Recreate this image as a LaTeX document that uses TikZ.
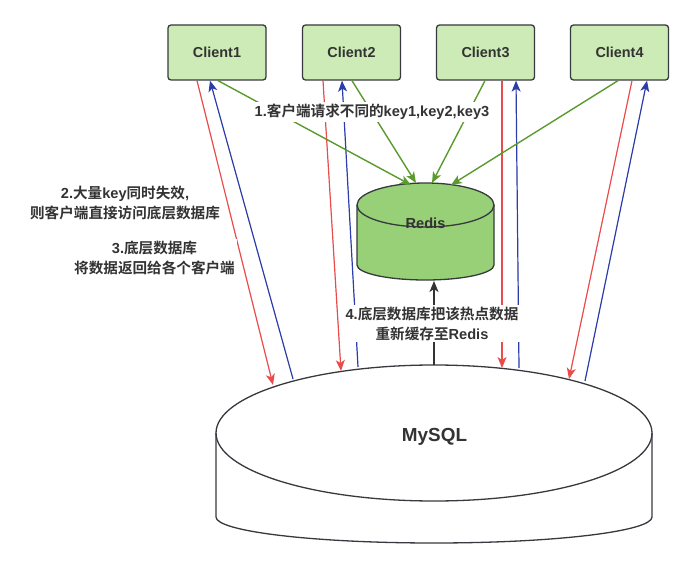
\documentclass[tikz,border=0pt]{standalone}
\usepackage{fontspec}
\setmainfont{Liberation Sans}
\newfontfamily\zhfont{Noto Sans CJK SC}[BoldFont={Noto Sans CJK SC Bold}]
\newcommand{\zh}[1]{{\zhfont #1}}
\usetikzlibrary{arrows.meta}
\definecolor{clientfill}{HTML}{CDEBB6}
\definecolor{redisfill}{HTML}{97D077}
\definecolor{edge}{HTML}{36393D}
\definecolor{txt}{HTML}{333333}
\definecolor{rline}{HTML}{EA4C4C}
\definecolor{bline}{HTML}{2C3DAA}
\definecolor{gline}{HTML}{5A9A2E}
\tikzset{
  client/.style={draw=edge, fill=clientfill, line width=1.3pt, rounded corners=3pt,
    minimum width=98pt, minimum height=55pt, inner sep=0pt,
    font=\fontsize{14.4}{17}\selectfont\bfseries, text=txt},
  lbl/.style={align=center, inner sep=2pt, fill=white,
    font=\fontsize{14.6}{20}\selectfont\bfseries, text=txt},
  tip/.style={-{Stealth[length=11pt,width=9pt,inset=3pt]}},
  redarr/.style={tip, draw=rline, fill=rline, line width=1.2pt},
  bluearr/.style={tip, draw=bline, fill=bline, line width=1.2pt},
  greenarr/.style={tip, draw=gline, fill=gline, line width=1.4pt},
  blackarr/.style={tip, draw=txt, fill=txt, line width=1.3pt},
  cyl/.style={draw=edge, line width=1.3pt}
}
\begin{document}
\begin{tikzpicture}[x=1pt,y=-1pt]
\useasboundingbox (0,0) rectangle (693,569);
% clients
\node[client] (c1) at (217,52.5) {Client1};
\node[client] (c2) at (351.5,52.5) {Client2};
\node[client] (c3) at (485.5,52.5) {Client3};
\node[client] (c4) at (619.5,52.5) {Client4};
% MySQL cylinder
\path[cyl, fill=white] (216,433) -- (216,517) arc[start angle=180,end angle=0,x radius=218,y radius=26]
  -- (652,433) arc[start angle=360,end angle=180,x radius=218,y radius=68] -- cycle;
\draw[cyl] (216,433) arc[start angle=180,end angle=0,x radius=218,y radius=68];
\node[font=\fontsize{18.9}{22}\selectfont\bfseries, text=txt] (mysql) at (434.5,437) {MySQL};
% Redis cylinder
\path[cyl, fill=redisfill] (357,205) -- (357,265) arc[start angle=180,end angle=0,x radius=68.5,y radius=15]
  -- (494,205) arc[start angle=360,end angle=180,x radius=68.5,y radius=22] -- cycle;
\draw[cyl] (357,205) arc[start angle=180,end angle=0,x radius=68.5,y radius=22];
\node[font=\fontsize{14.6}{17}\selectfont\bfseries, text=txt] (redis) at (425.5,223) {Redis};
% end points on the cylinders
\coordinate (m1r) at (273,385);
\coordinate (m1b) at (293,379);
\coordinate (m2r) at (341,371);
\coordinate (m2b) at (358,367);
\coordinate (m3r) at (502,368);
\coordinate (m3b) at (519,368);
\coordinate (m4r) at (569,379);
\coordinate (m4b) at (585,381);
\coordinate (r1) at (411,185);
\coordinate (r2) at (416,183);
\coordinate (r3) at (432,183);
\coordinate (r4) at (451,185);
\coordinate (mtop) at (434,365);
\coordinate (rbot) at (434,281);
% red: client -> MySQL
\draw[redarr] ([xshift=-20pt]c1.south) -- (m1r);
\draw[redarr] ([xshift=-28.5pt]c2.south) -- (m2r);
\draw[redarr] ([xshift=16.5pt]c3.south) -- (m3r);
\draw[redarr] ([xshift=12.5pt]c4.south) -- (m4r);
% blue: MySQL -> client
\draw[bluearr] (m1b) -- ([xshift=-7pt]c1.south);
\draw[bluearr] (m2b) -- ([xshift=-9.5pt]c2.south);
\draw[bluearr] (m3b) -- ([xshift=30.5pt]c3.south);
\draw[bluearr] (m4b) -- ([xshift=27.5pt]c4.south);
% green: client -> Redis
\draw[greenarr] ([xshift=1pt]c1.south) -- (r1);
\draw[greenarr] ([xshift=0.5pt]c2.south) -- (r2);
\draw[greenarr] ([xshift=-0.5pt]c3.south) -- (r3);
\draw[greenarr] ([xshift=-1.5pt]c4.south) -- (r4);
% black: MySQL -> Redis
\draw[blackarr] (mtop) -- (rbot);
% labels
\node[lbl] (l1) at (372,112) {1.\zh{客户端请求不同的}key1,key2,key3};
\node[lbl] (l2) at (125,203) {2.\zh{大量}key\zh{同时失效}, \\\zh{则客户端直接访问底层数据库}};
\node[lbl] (l3) at (154.5,258) {3.\zh{底层数据库}\\\zh{将数据返回给各个客户端}};
\node[lbl] (l4) at (432,323.5) {4.\zh{底层数据库把该热点数据}\\\zh{重新缓存至}Redis};
\end{tikzpicture}
\end{document}
